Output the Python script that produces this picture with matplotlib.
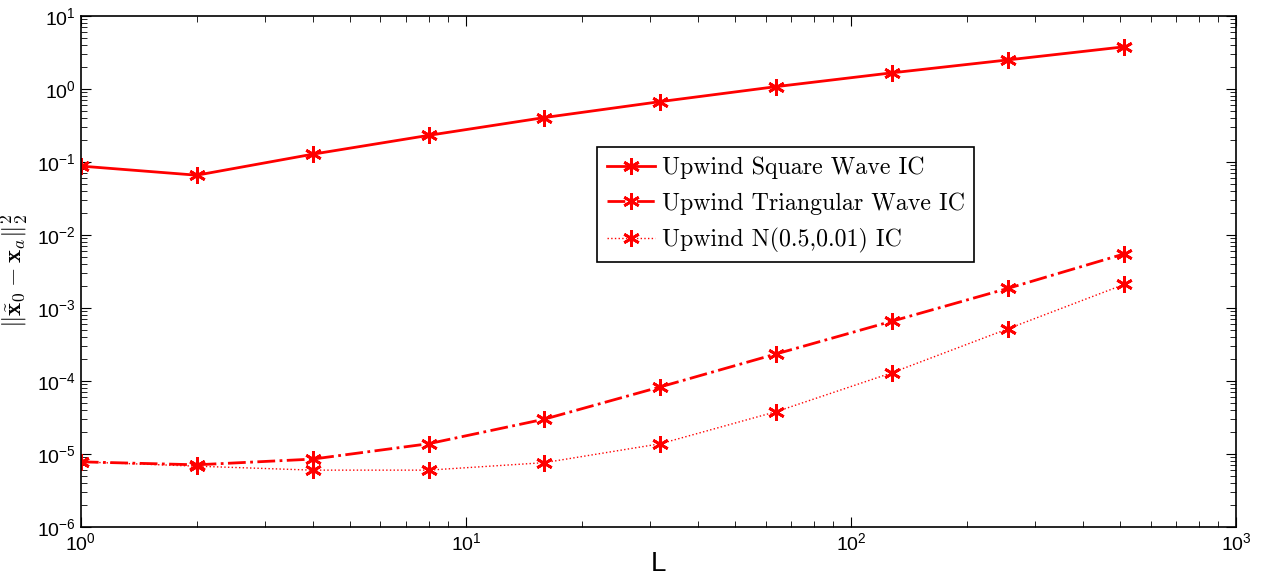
import numpy as np
from matplotlib import pyplot as plt

L = [1, 2, 4, 8, 16, 32, 64, 128, 256, 512]
square = [0.088, 0.066, 0.128, 0.232, 0.407, 0.673, 1.08, 1.67, 2.51, 3.79]
triangular = [7.8e-6, 7.1e-6, 8.5e-6, 1.38e-5, 3.0e-5, 8.3e-5, 2.35e-4, 6.6e-4, 1.86e-3, 5.5e-3]
gauss = [7.8e-6, 6.8e-6, 6.0e-6, 6.0e-6, 7.6e-6, 1.38e-5, 3.8e-5, 1.3e-4, 5.2e-4, 2.1e-3]
labels = ['Upwind Square Wave IC', 'Upwind Triangular Wave IC', 'Upwind N(0.5,0.01) IC']

plt.rcParams['font.family'] = 'Liberation Sans'
plt.rcParams['mathtext.fontset'] = 'custom'
plt.rcParams['mathtext.rm'] = 'Liberation Sans'
plt.rcParams['mathtext.it'] = 'Liberation Sans:italic'
plt.rcParams['mathtext.bf'] = 'Liberation Sans:bold'

fig = plt.figure(figsize=(12.63, 5.74), dpi=100)
ax = fig.add_axes([0.064, 0.082, 0.9146, 0.890])

star = (6, 2, 0)
ax.plot(L, square, '-', color='red', lw=2, marker=star, ms=12, mew=2, label=labels[0])
ax.plot(L, triangular, '-.', color='red', lw=2, marker=star, ms=12, mew=2, label=labels[1])
ax.plot(L, gauss, ':', color='red', lw=1, marker=star, ms=12, mew=2, label=labels[2])

ax.set_xscale('log')
ax.set_yscale('log')
ax.set_xlim(1, 1000)
ax.set_ylim(1e-6, 10)
ax.tick_params(which='both', direction='in', top=True, right=True, labelsize=14)
ax.tick_params(which='major', length=7)
ax.tick_params(which='minor', length=4)
for s in ax.spines.values():
    s.set_linewidth(1.2)

ax.set_xlabel('L', fontsize=20, labelpad=-2)
ax.set_ylabel(r'$\|\tilde{\mathbf{x}}_0 - \mathbf{x}_a\|_2^2$', fontsize=18,
              math_fontfamily='cm', labelpad=4)

leg = ax.legend(loc='upper left', bbox_to_anchor=(0.447, 0.744), fancybox=False,
                edgecolor='black', framealpha=1, prop={'family': 'cmr10', 'size': 17.2},
                handlelength=2.0, borderpad=0.4, labelspacing=0.55, handletextpad=0.3,
                borderaxespad=0)
leg.get_frame().set_linewidth(1.2)

plt.savefig('out.png', dpi=100)
